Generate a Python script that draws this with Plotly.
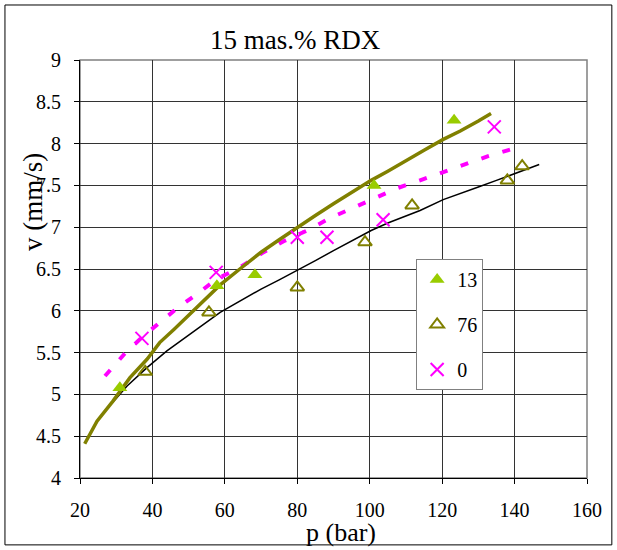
import plotly.graph_objects as go

# Measured points
s13_p = [31.0, 57.8, 68.3, 101.2, 123.3]
s13_v = [5.08, 6.30, 6.43, 7.50, 8.28]

s76_p = [38.0, 55.6, 80.0, 98.7, 111.7, 138.0, 142.1]
s76_v = [5.27, 5.98, 6.28, 6.82, 7.26, 7.56, 7.73]

s0_p = [37.1, 57.6, 80.0, 88.2, 103.7, 134.4]
s0_v = [5.67, 6.46, 6.88, 6.88, 7.09, 8.20]

# Trend lines
fit13_p = [21.3, 24.7, 29.1, 33.8, 38.5, 42.0, 46.0, 50.0, 55.0, 58.7, 65.0, 70.0, 75.0,
           80.0, 85.0, 90.0, 95.0, 100.4, 105.0, 110.0, 115.0, 120.3, 125.0, 130.0, 133.5]
fit13_v = [4.41, 4.68, 4.92, 5.20, 5.42, 5.62, 5.78, 5.95, 6.15, 6.31, 6.53, 6.70, 6.85,
           7.00, 7.14, 7.28, 7.42, 7.56, 7.67, 7.79, 7.92, 8.05, 8.15, 8.27, 8.36]

fit76_p = [27.8, 30.0, 33.0, 38.5, 44.0, 48.0, 52.3, 58.7, 65.0, 70.0, 75.0, 80.0, 85.0,
           90.0, 95.0, 100.4, 105.0, 110.0, 113.9, 120.3, 125.0, 130.0, 135.0, 140.2, 144.0, 146.8]
fit76_v = [4.85, 4.95, 5.10, 5.32, 5.52, 5.65, 5.78, 5.98, 6.14, 6.26, 6.37, 6.48, 6.60,
           6.72, 6.84, 6.96, 7.05, 7.13, 7.20, 7.33, 7.40, 7.48, 7.56, 7.64, 7.70, 7.75]

fit0_p = [26.9, 32.4, 37.0, 42.1, 47.1, 52.6, 57.8, 64.2, 70.3, 76.6, 82.7, 89.1, 95.4,
          101.5, 107.8, 113.9, 120.3, 126.9, 132.7, 139.6]
fit0_v = [5.22, 5.49, 5.68, 5.86, 6.04, 6.21, 6.38, 6.52, 6.69, 6.84, 6.96, 7.11, 7.23,
          7.35, 7.47, 7.56, 7.66, 7.76, 7.85, 7.94]

x_ticks = [20, 40, 60, 80, 100, 120, 140, 160]
y_ticks = [4, 4.5, 5, 5.5, 6, 6.5, 7, 7.5, 8, 8.5, 9]

FONT = "'Times New Roman', 'Liberation Serif', 'DejaVu Serif', serif"
OLIVE = "#808000"
GREEN = "#99CC00"
MAGENTA = "#FF00FF"

fig = go.Figure()

# lines
fig.add_trace(go.Scatter(x=fit76_p, y=fit76_v, mode="lines",
                         line=dict(color="black", width=1.5), showlegend=False, hoverinfo="skip"))
fig.add_trace(go.Scatter(x=fit0_p, y=fit0_v, mode="lines",
                         line=dict(color=MAGENTA, width=4, dash="8px,14px"), showlegend=False, hoverinfo="skip"))
fig.add_trace(go.Scatter(x=fit13_p, y=fit13_v, mode="lines",
                         line=dict(color=OLIVE, width=3.5), showlegend=False, hoverinfo="skip"))

# markers
fig.add_trace(go.Scatter(x=s13_p, y=s13_v, mode="markers", name="13", legendgroup="a",
                         marker=dict(symbol="triangle-up", size=13, color=GREEN)))
fig.add_trace(go.Scatter(x=s76_p, y=s76_v, mode="markers", name="76", legendgroup="b",
                         marker=dict(symbol="triangle-up-open", size=12, color=OLIVE,
                                     line=dict(width=2, color=OLIVE))))
fig.add_trace(go.Scatter(x=s0_p, y=s0_v, mode="markers", name="0", legendgroup="c",
                         marker=dict(symbol="x-thin-open", size=13, color=MAGENTA,
                                     line=dict(width=2, color=MAGENTA))))

axis_common = dict(showline=True, linecolor="black", linewidth=1, mirror=False,
                   showgrid=True, gridcolor="#333333", gridwidth=1,
                   ticks="outside", ticklen=5, tickcolor="black", zeroline=False,
                   tickfont=dict(family=FONT, size=20, color="black"))

fig.update_xaxes(range=[20, 160], tickvals=x_ticks, ticktext=[str(v) for v in x_ticks],
                 ticklabelstandoff=9, **axis_common)
fig.update_yaxes(range=[4, 9], tickvals=y_ticks, ticktext=[f"{v:g}" for v in y_ticks],
                 ticklabelstandoff=9, **axis_common)

fig.update_layout(
    width=617, height=550,
    margin=dict(l=80, r=30, t=60, b=72),
    paper_bgcolor="white", plot_bgcolor="white",
    font=dict(family=FONT, size=20, color="black"),
    legend=dict(x=0.663, y=0.524, xanchor="left", yanchor="top",
                bgcolor="white", bordercolor="#808080", borderwidth=1,
                font=dict(family=FONT, size=20), tracegroupgap=16),
    annotations=[
        dict(text="15 mas.% RDX", xref="paper", yref="paper", x=0.425, y=1.048,
             xanchor="center", yanchor="middle", showarrow=False,
             font=dict(family=FONT, size=27)),
        dict(text="p (bar)", xref="paper", yref="paper", x=0.515, y=-0.13,
             xanchor="center", yanchor="middle", showarrow=False,
             font=dict(family=FONT, size=26)),
        dict(text="v (mm/s)", xref="paper", yref="paper", x=-0.093, y=0.66,
             xanchor="center", yanchor="middle", showarrow=False, textangle=-90,
             font=dict(family=FONT, size=27)),
    ],
    shapes=[
        dict(type="rect", xref="paper", yref="paper", x0=0, x1=1, y0=0, y1=1,
             line=dict(color="#808080", width=1.5), layer="below"),
        dict(type="rect", xref="paper", yref="paper", x0=-0.148, x1=1.049, y0=-0.160, y1=1.1316,
             line=dict(color="black", width=1), layer="below"),
    ],
)

fig.write_html("out.html")
